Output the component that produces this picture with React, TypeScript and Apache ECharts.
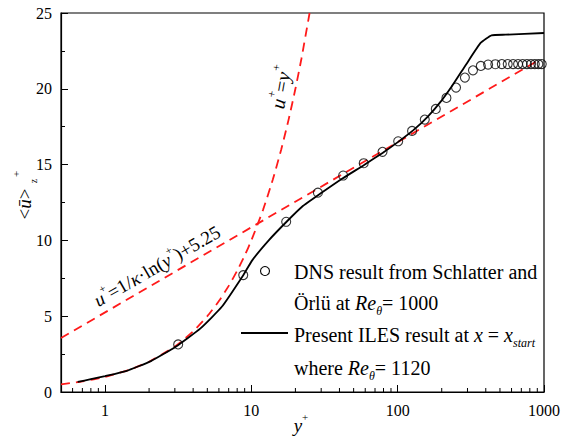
import React, { useEffect, useRef } from 'react';
import * as echarts from 'echarts';

// ---- data ----
const xTickLabels = [1, 10, 100, 1000];
const xMinorTicks = [0.6, 0.7, 0.8, 0.9, 2, 3, 4, 5, 6, 7, 8, 9, 20, 30, 40, 50, 60, 70, 80, 90, 200, 300, 400, 500, 600, 700, 800, 900];

const dnsYPlus = [3.16, 8.8, 17.3, 28.5, 42.4, 58.6, 78.8, 100.8, 125.4, 153.2, 182.2, 215.4, 250.5, 288, 327, 370, 415, 465, 515, 565, 615, 665, 715, 765, 815, 865, 915, 965];
const dnsUPlus = [3.14, 7.71, 11.23, 13.15, 14.28, 15.09, 15.84, 16.54, 17.22, 17.97, 18.67, 19.4, 20.08, 20.74, 21.22, 21.51, 21.6, 21.62, 21.63, 21.63, 21.63, 21.63, 21.63, 21.63, 21.63, 21.63, 21.63, 21.63];

const ilesYPlus = [0.65, 0.8, 1, 1.39, 2.06, 3.04, 4.49, 6.28, 8.78, 10.16, 13.19, 17.4, 22.2, 30, 41.9, 58.6, 78.8, 100.8, 128, 160, 200, 237, 296, 370, 438, 547, 1000];
const ilesUPlus = [0.66, 0.85, 1.05, 1.38, 2.04, 2.99, 4.2, 5.62, 7.69, 8.7, 10.02, 11.23, 12.22, 13.12, 14.08, 14.96, 15.77, 16.5, 17.27, 18.15, 19.24, 20.23, 21.66, 23.04, 23.53, 23.57, 23.68];

const linearYPlus = [0.5, 0.7, 1, 1.5, 2, 3, 4, 5, 6, 7, 8, 9, 10, 12, 14, 16, 18, 20, 22, 25];
const linearUPlus = [0.5, 0.7, 1, 1.5, 2, 3, 4, 5, 6, 7, 8, 9, 10, 12, 14, 16, 18, 20, 22, 25];

const logLawYPlus = [0.5, 900];
const logLawUPlus = [3.56, 21.84];

const zip = (a: number[], b: number[]) => a.map((v, i) => [v, b[i]]);

const FONT = 'serif';

function makeRich(size: number, lh: number) {
  const sub = Math.round(size * 0.6);
  return {
    n: { fontFamily: FONT, fontSize: size, fill: '#000', lineHeight: lh },
    i: { fontFamily: FONT, fontSize: size, fill: '#000', fontStyle: 'italic', lineHeight: lh },
    sub: { fontFamily: FONT, fontSize: sub, fill: '#000', fontStyle: 'italic', verticalAlign: 'bottom' },
    sup: { fontFamily: FONT, fontSize: sub, fill: '#000', verticalAlign: 'top' },
  };
}

function txt(x: number, y: number, text: string, size: number, rotation = 0, align = 'left') {
  return {
    type: 'text',
    x,
    y,
    rotation,
    silent: true,
    z: 100,
    style: {
      text,
      rich: makeRich(size, Math.round(size * 1.4)),
      fill: '#000',
      fontFamily: FONT,
      fontSize: size,
      align,
      verticalAlign: 'middle',
    },
  };
}

export default function App() {
  const ref = useRef<HTMLDivElement>(null);
  useEffect(() => {
    const chart = echarts.init(ref.current!, null, { renderer: 'svg' });
    const red = '#ff1a1a';
    const option: any = {
      animation: false,
      textStyle: { fontFamily: FONT },
      grid: {
        left: 61,
        right: 16,
        top: 13,
        bottom: 46,
        show: true,
        borderColor: '#000',
        borderWidth: 1.2,
        backgroundColor: 'transparent',
      },
      xAxis: {
        type: 'log',
        min: 0.5,
        max: 1000,
        axisLine: { lineStyle: { color: '#000', width: 1.2 } },
        axisTick: { inside: true, length: 7, lineStyle: { color: '#000', width: 1 } },
        axisLabel: {
          color: '#000',
          fontFamily: FONT,
          fontSize: 16,
          margin: 10,
          formatter: (v: number) => {
            const r = Math.round(v);
            return Math.abs(v - r) < 1e-6 && xTickLabels.includes(r) ? String(r) : '';
          },
        },
        splitLine: { show: false },
      },
      yAxis: {
        type: 'value',
        min: 0,
        max: 25,
        interval: 5,
        axisLine: { show: true, lineStyle: { color: '#000', width: 1.2 } },
        axisTick: { inside: true, length: 7, lineStyle: { color: '#000', width: 1 } },
        minorTick: { show: true, splitNumber: 2, length: 4, lineStyle: { color: '#000', width: 1 } },
        axisLabel: { color: '#000', fontFamily: FONT, fontSize: 16, margin: 9 },
        splitLine: { show: false },
      },
      series: [
        {
          type: 'line',
          data: zip(logLawYPlus, logLawUPlus),
          symbol: 'none',
          lineStyle: { color: red, width: 1.8, type: [9, 6] },
          z: 2,
        },
        {
          type: 'line',
          data: zip(linearYPlus, linearUPlus),
          symbol: 'none',
          smooth: 0.2,
          lineStyle: { color: red, width: 1.8, type: [9, 6] },
          z: 2,
        },
        {
          type: 'line',
          data: zip(ilesYPlus, ilesUPlus),
          symbol: 'none',
          smooth: 0.15,
          lineStyle: { color: '#000', width: 1.8 },
          z: 3,
        },
        {
          type: 'scatter',
          data: zip(dnsYPlus, dnsUPlus),
          symbol: 'circle',
          symbolSize: 9,
          itemStyle: { color: 'rgba(0,0,0,0)', borderColor: '#000', borderWidth: 1.1 },
          z: 4,
        },
        {
          type: 'custom',
          data: xMinorTicks.map((v) => [v, 0]),
          renderItem: (params: any, api: any) => {
            const p = api.coord([api.value(0), 0]);
            return {
              type: 'line',
              shape: { x1: p[0], y1: p[1], x2: p[0], y2: p[1] - 4 },
              style: { stroke: '#000', lineWidth: 1 },
            };
          },
          z: 10,
        },
      ],
      graphic: [
        // legend
        { type: 'circle', shape: { cx: 265, cy: 271, r: 4.5 }, style: { fill: 'none', stroke: '#000', lineWidth: 1.1 }, z: 100 },
        txt(294, 272, '{n|DNS result from Schlatter and}', 20),
        txt(294, 303, '{n|Örlü at }{i|Re}{sub|θ}{n|= 1000}', 20),
        { type: 'line', shape: { x1: 241, y1: 333, x2: 288, y2: 333 }, style: { stroke: '#000', lineWidth: 2 }, z: 100 },
        txt(294, 335, '{n|Present ILES result at }{i|x}{n| = }{i|x}{sub|start}', 20),
        txt(294, 368, '{n|where }{i|Re}{sub|θ}{n|= 1120}', 20),
        // annotations
        txt(157, 266, '{i|u}{sup|+}{n|=1/}{i|κ}{n|·ln(}{i|y}{sup|+}{n|)+5.25}', 19, Math.PI / 6, 'center'),
        txt(281, 87, '{i|u}{sup|+}{n|=}{i|y}{sup|+}', 20, (80 * Math.PI) / 180, 'center'),
        // axis names
        txt(301, 425, '{i|y}{sup|+}', 19, 0, 'center'),
        txt(24, 204, '{n|<}{i|ū}{n|>}', 19, Math.PI / 2, 'center'),
        txt(33, 181, '{n|z}', 10, Math.PI / 2, 'center'),
        txt(16, 174, '{n|+}', 11, Math.PI / 2, 'center'),
      ],
    };
    chart.setOption(option);
    return () => chart.dispose();
  }, []);
  return <div ref={ref} style={{ position: 'fixed', left: 0, top: 0, width: 563, height: 438, background: '#fff' }} />;
}
